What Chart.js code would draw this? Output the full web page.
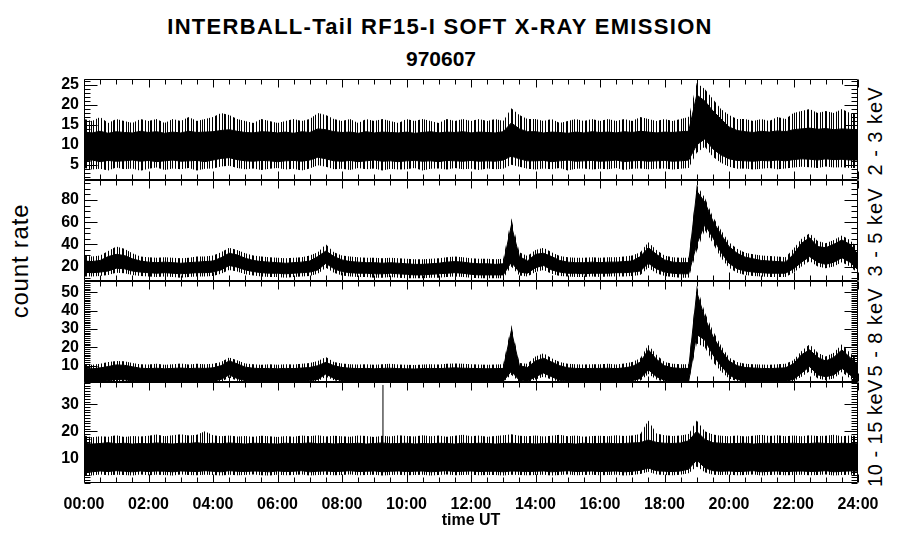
<!DOCTYPE html>
<html>
<head>
<meta charset="utf-8">
<script src="https://cdn.jsdelivr.net/npm/chart.js@4.4.0/dist/chart.umd.min.js"></script>
<style>
  body { margin: 0; background: #fff; }
  #wrap { position: relative; width: 900px; height: 548px; background: #fff; font-family: "Liberation Sans", Arial, sans-serif; color: #000; overflow: hidden; }
  #wrap canvas { position: absolute; left: 0; }
  .txt { position: absolute; white-space: nowrap; transform: translate(-50%, -50%); }
  .rot { transform: translate(-50%, -50%) rotate(-90deg); }
</style>
</head>
<body>
<div id="wrap">
  <div class="txt" style="left:440px;top:27px;font:bold 22px 'Liberation Sans',Arial,sans-serif;letter-spacing:1.3px">INTERBALL-Tail RF15-I SOFT X-RAY EMISSION</div>
  <div class="txt" style="left:441px;top:59px;font:bold 21px 'Liberation Sans',Arial,sans-serif">970607</div>
  <div class="txt rot" style="left:20px;top:261px;font:24px 'Liberation Sans',Arial,sans-serif;letter-spacing:0.8px">count rate</div>
  <div class="txt rot" style="left:875px;top:131px;font:20px 'Liberation Sans',Arial,sans-serif;letter-spacing:1px">2 - 3 keV</div>
  <div class="txt rot" style="left:875px;top:232px;font:20px 'Liberation Sans',Arial,sans-serif;letter-spacing:1px">3 - 5 keV</div>
  <div class="txt rot" style="left:875px;top:332px;font:20px 'Liberation Sans',Arial,sans-serif;letter-spacing:1px">5 - 8 keV</div>
  <div class="txt rot" style="left:875px;top:433px;font:20px 'Liberation Sans',Arial,sans-serif;letter-spacing:0.5px">10 - 15 keV</div>
  <canvas id="c1" width="900" height="113" style="top:73px"></canvas>
  <canvas id="c2" width="900" height="113" style="top:174px"></canvas>
  <canvas id="c3" width="900" height="113" style="top:275px"></canvas>
  <canvas id="c4" width="900" height="172" style="top:376px"></canvas>
</div>
<script>
// samples every 15 min, 00:00 .. 24:00 (97 values)
// core = dense black band, spike = extent of the noisy fringe

// 2 - 3 keV
const p1CoreHi = [
  13.2,13.0,13.4,12.9,13.3,13.1,13.0,13.4,
  13.1,13.3,12.9,13.2,13.0,13.4,13.1,13.2,
  13.3,13.6,13.8,13.4,13.1,13.0,13.3,13.2,
  13.0,13.2,12.9,13.3,13.1,14.0,13.8,13.3,
  13.1,13.2,12.9,13.3,13.0,13.2,13.1,13.0,
  13.2,12.9,13.1,13.3,13.0,13.2,13.1,13.3,
  13.0,13.2,13.1,13.0,13.3,15.5,14.0,13.3,
  13.3,13.0,13.2,13.1,12.9,13.2,13.0,13.3,
  13.1,13.2,13.0,13.3,13.1,13.4,13.2,13.0,
  13.2,13.1,13.3,13.4,22.5,21.0,18.5,16.5,
  14.5,13.6,13.3,13.1,13.4,13.2,13.5,13.3,
  13.8,14.0,14.2,13.9,14.1,13.8,14.0,13.9,
  13.7]
const p1CoreLo = [
  6.0,6.2,5.8,6.1,5.9,6.0,6.2,5.9,
  6.1,5.8,6.0,6.2,5.9,6.0,6.1,5.8,
  6.2,6.6,6.8,6.3,6.0,5.9,6.1,6.0,
  5.8,6.0,6.1,5.9,6.2,6.9,6.5,6.0,
  5.9,6.1,5.8,6.0,6.2,5.9,6.0,5.8,
  6.0,6.1,5.9,6.0,5.8,6.1,6.0,5.9,
  6.1,5.9,6.0,5.9,6.2,7.2,6.5,6.0,
  6.0,6.1,5.8,6.0,6.2,5.9,6.0,6.1,
  5.9,6.0,6.2,5.8,6.0,6.1,5.9,6.0,
  6.1,5.9,6.0,6.2,10.0,11.5,9.0,7.5,
  6.5,6.1,6.0,5.9,6.1,6.0,6.2,6.0,
  6.3,6.5,6.4,6.2,6.5,6.3,6.4,6.2,
  6.2]
const p1SpikeHi = [
  16.5,16.0,17.0,15.5,16.5,16.0,15.5,16.5,
  16.0,16.5,15.5,16.5,16.0,17.0,16.0,16.5,
  17.0,18.0,17.5,16.5,16.0,15.5,16.5,16.0,
  15.5,16.0,16.5,16.0,16.5,18.0,17.5,16.5,
  16.0,16.5,15.5,16.5,16.0,16.5,16.0,15.5,
  16.5,16.0,16.5,16.0,15.5,16.5,16.0,16.5,
  16.0,16.5,16.0,16.5,16.0,19.2,17.5,16.5,
  16.5,16.0,16.5,15.5,16.0,16.5,16.0,16.5,
  16.0,16.5,16.0,16.5,16.0,17.0,16.5,16.0,
  16.5,16.0,16.5,17.0,25.5,24.0,21.5,19.0,
  17.5,16.5,16.5,16.0,16.5,16.0,17.0,16.5,
  18.0,18.5,19.0,18.0,18.5,18.0,19.0,18.0,
  17.5]
const p1SpikeLo = [
  4.2,3.8,4.0,3.6,4.3,3.9,4.1,3.5,
  4.0,4.3,3.7,4.1,3.9,4.2,3.6,4.0,
  4.1,4.6,4.8,4.2,3.9,4.1,3.7,4.0,
  4.2,3.8,4.0,3.6,4.1,4.9,4.5,3.9,
  4.0,3.7,4.2,3.9,4.1,3.6,4.0,3.8,
  3.9,4.2,3.6,4.0,4.1,3.8,4.2,3.9,
  4.0,3.7,4.1,3.9,4.0,5.0,4.5,4.0,
  3.8,4.1,3.9,4.2,3.6,4.0,4.1,3.8,
  4.0,3.9,4.2,3.7,4.0,4.1,3.9,4.0,
  4.1,3.8,4.0,4.2,8.0,9.5,7.0,5.5,
  4.5,4.0,4.1,3.8,4.0,4.2,3.9,4.1,
  4.3,4.5,4.4,4.2,4.6,4.3,4.4,4.2,
  4.2]

// 3 - 5 keV
const p2CoreHi = [
  25,24.5,25.5,29,31,30,27,25,
  24,23.5,24,23.5,23,23.5,24,24.5,
  25,28,32,30.5,27.5,25.5,24.5,24,
  23.5,23,23.5,24,25,29,34,29,
  26,24.5,24,23.5,23.5,23,23.5,23,
  22.5,22,22,22.5,23,24,24.5,24,
  23,22.5,22.5,22,22.5,57,29,25,
  31,32,29,25.5,24,23.5,23.5,24,
  23.5,24,24,24.5,25,29,37,31,
  26,24,23.5,23.5,88,78,61,49,
  38,32,28.5,27,25.5,25,24.5,24,
  31,41,46,38,37,40,44,40,
  31]
const p2CoreLo = [
  15,14.5,15,16,18.5,18,16,15,
  14.5,14,14.5,14,13.5,14,14.5,14.5,
  15,17,21,19.5,17,15.5,14.5,14,
  14,13.5,14,14.5,15,17,23,18,
  15.5,14.5,14,14,13.5,13.5,14,13.5,
  13,12.5,12.5,13,13.5,14,14.5,14,
  13,12.5,12.5,12.5,12.5,24,15,14,
  19,21,17,15,14,14,13.5,14,
  14,14,14.5,14.5,15,16,23,18,
  15,14,13.5,13.5,40,58,46,33,
  23,18,16,15,14.5,14,14,14,
  18,24,29,24,22,24,28,24,
  17]
const p2SpikeHi = [
  30,29,30,34,38,36,32,29,
  28.5,28,28.5,28,27.5,28,29,29,
  30,33,37,35,32,30,29,28.5,
  28,27.5,28,28.5,30,33,40,33,
  30,29,28.5,28,28,27.5,28,27.5,
  27,26.5,26.5,27,27.5,28.5,29,28.5,
  27.5,27,27,26.5,27,63.5,33,29.5,
  35,37,33,29.5,28.5,28,28,28.5,
  28,28.5,28.5,29,30,33,42,35,
  30,28.5,28,28,93.5,82,65,53,
  42,36,32.5,31,30,29.5,29,28.5,
  36,45,50,43,41,44,48,44,
  36]
const p2SpikeLo = [
  11,11,11.5,12.5,14.5,14,12.5,11.5,
  11,10.5,11,10.5,10,10.5,11,11,
  11.5,13.5,17,15.5,13,12,11,10.5,
  10.5,10,10.5,11,11.5,13.5,19,14.5,
  12,11,10.5,10.5,10,10,10.5,10,
  9.5,9.5,9.5,10,10,10.5,11,10.5,
  10,9.5,9.5,9.5,9.5,20,12,11,
  15,17,13.5,11.5,11,10.5,10.5,11,
  10.5,11,11,11,11.5,12.5,19,14,
  11.5,10.5,10,10,34,53,41,28,
  19,14.5,12.5,11.5,11,10.5,10.5,10.5,
  14.5,20,25,20,18.5,20,24,20,
  14]

// 5 - 8 keV
const p3CoreHi = [
  8.5,8.3,8.8,9.5,10.4,10.2,9.4,8.6,
  8.4,8.6,8.3,8.5,8.7,8.4,8.6,8.5,
  8.8,10.0,12.6,11.0,9.2,8.6,8.4,8.5,
  8.3,8.5,8.4,8.7,9.0,10.0,11.8,10.0,
  9.0,8.6,8.4,8.5,8.3,8.5,8.6,8.4,
  8.3,8.2,8.4,8.5,8.4,8.6,8.8,8.6,
  8.5,8.4,8.3,8.4,8.5,29.0,10.0,9.0,
  12.5,14.0,12.0,10.0,8.8,8.5,8.4,8.5,
  8.5,8.6,8.4,8.8,9.5,12.0,18.6,13.5,
  10.0,8.8,8.5,8.5,50.0,36.0,26.0,18.5,
  12.5,10.0,9.0,8.7,8.5,8.4,8.6,8.8,
  11.0,16.0,18.6,14.5,12.5,14.5,18.6,14.5,
  10.5]
const p3CoreLo = [
  1.5,1.5,1.5,1.8,2.5,2.3,1.8,1.5,
  1.5,1.5,1.5,1.5,1.5,1.5,1.5,1.5,
  1.5,2.5,5.0,3.0,1.8,1.5,1.5,1.5,
  1.5,1.5,1.5,1.5,1.8,2.5,5.5,3.0,
  1.8,1.5,1.5,1.5,1.5,1.5,1.5,1.5,
  1.5,1.5,1.5,1.5,1.5,1.5,1.5,1.5,
  1.5,1.5,1.5,1.5,1.5,7.0,2.0,1.5,
  4.0,6.0,4.0,2.0,1.5,1.5,1.5,1.5,
  1.5,1.5,1.5,1.5,1.8,3.0,7.8,4.0,
  2.0,1.5,1.5,1.5,27.0,24.0,16.0,10.0,
  5.0,2.5,1.5,1.5,1.5,1.5,1.5,1.5,
  2.5,6.0,9.5,5.0,4.0,5.0,8.6,5.0,
  2.0]
const p3SpikeHi = [
  10.8,10.5,11.0,12.0,12.6,12.4,11.5,10.8,
  10.6,11.0,10.5,10.8,11.2,10.6,11.0,10.8,
  11.0,12.0,14.4,13.0,11.2,10.8,10.5,10.8,
  10.5,10.8,10.6,11.0,11.4,12.5,14.7,12.0,
  11.2,10.8,10.6,10.8,10.5,10.8,11.0,10.6,
  10.5,10.4,10.6,10.8,10.6,11.0,11.2,11.0,
  10.8,10.6,10.5,10.6,10.8,32.2,11.5,11.0,
  15.0,16.8,14.0,12.0,11.0,10.8,10.6,10.8,
  10.8,11.0,10.6,11.2,12.0,14.0,21.3,16.0,
  12.0,11.0,10.8,10.8,53.5,39.0,29.0,21.0,
  14.5,12.0,11.0,10.8,10.6,10.5,10.8,11.0,
  13.0,18.0,21.6,17.0,15.0,17.0,21.6,17.0,
  12.8]
const p3SpikeLo = [
  1.1,1.1,1.1,1.1,1.1,1.1,1.1,1.1,
  1.1,1.1,1.1,1.1,1.1,1.1,1.1,1.1,
  1.1,1.1,3.5,1.8,1.1,1.1,1.1,1.1,
  1.1,1.1,1.1,1.1,1.1,1.5,4.0,2.0,
  1.1,1.1,1.1,1.1,1.1,1.1,1.1,1.1,
  1.1,1.1,1.1,1.1,1.1,1.1,1.1,1.1,
  1.1,1.1,1.1,1.1,1.1,5.0,1.1,1.1,
  2.5,4.0,2.5,1.1,1.1,1.1,1.1,1.1,
  1.1,1.1,1.1,1.1,1.1,1.8,5.5,2.5,
  1.1,1.1,1.1,1.1,22.0,20.0,12.0,7.0,
  3.0,1.5,1.1,1.1,1.1,1.1,1.1,1.1,
  1.5,4.0,7.0,3.0,2.0,3.0,6.5,3.0,
  1.1]

// 10 - 15 keV
const p4CoreHi = [
  15.6,15.3,15.5,15.8,15.4,15.6,15.3,15.5,
  15.4,15.7,15.5,15.3,15.6,15.5,15.8,15.4,
  15.6,15.4,15.7,15.5,15.3,15.6,15.5,15.4,
  15.3,15.6,15.4,15.5,15.7,15.4,15.6,15.3,
  15.5,15.4,15.6,15.3,15.5,15.7,15.4,15.5,
  15.6,15.3,15.5,15.4,15.6,15.5,15.3,15.6,
  15.4,15.6,15.5,15.3,15.5,15.6,15.4,15.5,
  15.3,15.5,15.6,15.4,15.5,15.3,15.6,15.4,
  15.5,15.6,15.4,15.5,15.7,15.8,16.8,15.9,
  15.6,15.5,15.7,16.5,20.0,17.0,15.8,15.6,
  15.4,15.5,15.6,15.3,15.5,15.6,15.4,15.5,
  15.6,15.4,15.5,15.7,15.5,15.4,15.6,15.5,
  15.4]
const p4CoreLo = [
  5.2,5.0,5.3,5.1,5.4,5.2,5.0,5.3,
  5.1,5.3,5.2,5.0,5.3,5.2,5.1,5.4,
  5.2,5.0,5.4,5.2,5.1,5.3,5.2,5.0,
  5.3,5.1,5.2,5.4,5.0,5.2,5.3,5.1,
  5.2,5.4,5.1,5.2,5.3,5.0,5.2,5.3,
  5.1,5.2,5.3,5.0,5.2,5.4,5.1,5.2,
  5.3,5.1,5.2,5.2,5.0,5.3,5.2,5.1,
  5.2,5.3,5.0,5.2,5.4,5.1,5.2,5.3,
  5.1,5.2,5.3,5.0,5.2,5.6,6.4,5.4,
  5.2,5.1,5.3,6.0,9.4,6.5,5.4,5.2,
  5.3,5.1,5.2,5.4,5.0,5.2,5.3,5.1,
  5.2,5.3,5.1,5.2,5.4,5.0,5.2,5.3,
  5.2]
const p4SpikeHi = [
  18.5,17.8,18.2,18.0,18.6,17.9,18.3,18.1,
  18.4,18.8,18.2,18.6,18.9,18.5,18.7,20.0,
  18.6,18.2,18.5,18.1,18.3,18.0,18.4,18.2,
  17.9,18.3,18.0,18.5,18.2,18.6,18.1,18.4,
  18.2,18.0,18.5,18.3,17.9,18.4,18.1,18.6,
  18.3,18.1,18.6,18.2,18.5,18.0,18.4,18.7,
  18.2,18.5,18.0,18.3,18.6,18.9,18.4,18.2,
  18.5,18.1,18.4,18.7,18.2,18.5,18.0,18.3,
  18.4,18.2,18.6,18.3,18.5,19.0,24.0,19.2,
  18.6,18.3,18.5,19.0,24.0,20.0,18.8,18.4,
  18.2,18.5,18.1,18.4,18.7,18.3,18.6,18.2,
  18.5,18.2,18.6,18.3,18.4,18.7,18.2,18.5,
  18.3]
const p4SpikeLo = [
  3.8,3.6,4.0,3.7,3.9,3.8,3.6,4.0,
  3.7,3.9,3.8,3.6,4.0,3.8,3.7,3.9,
  3.8,3.6,3.9,3.7,3.8,4.0,3.7,3.6,
  3.9,3.7,3.8,4.0,3.6,3.8,3.9,3.7,
  3.8,4.0,3.7,3.8,3.9,3.6,3.8,3.9,
  3.7,3.8,3.9,3.6,3.8,4.0,3.7,3.8,
  3.9,3.7,3.8,3.8,3.6,3.9,3.8,3.7,
  3.8,3.9,3.6,3.8,4.0,3.7,3.8,3.9,
  3.7,3.8,3.9,3.6,3.8,4.2,5.0,4.0,
  3.8,3.7,3.9,4.5,7.0,4.8,3.9,3.8,
  3.9,3.7,3.8,4.0,3.6,3.8,3.9,3.7,
  3.8,3.9,3.7,3.8,4.0,3.6,3.8,3.9,
  3.8]
// single spike in 10 - 15 keV near 09:16
const p4SpikeTime = [9.27]
const p4SpikeBase = [15.5]
const p4SpikeTop = [37.2]

// axes
const p1Ticks = [5, 10, 15, 20, 25]
const p2Ticks = [20, 40, 60, 80]
const p3Ticks = [10, 20, 30, 40, 50]
const p4Ticks = [10, 20, 30]
const xTickHours = [0, 2, 4, 6, 8, 10, 12, 14, 16, 18, 20, 22, 24]
const xTickLabels = ['00:00', '02:00', '04:00', '06:00', '08:00', '10:00', '12:00',
  '14:00', '16:00', '18:00', '20:00', '22:00', '24:00']

const SAMPLE_H = 0.25
const toPoints = arr => arr.map((v, i) => ({ x: i * SAMPLE_H, y: v }))

Chart.defaults.font.family = '"Liberation Sans", Arial, sans-serif'
Chart.defaults.color = '#000'

// irregular vertical hairlines for the noisy fringe
function fringePattern() {
  const cols = [0, 2, 3, 6, 8, 11, 12, 15, 17, 19, 22, 24, 27, 30, 31, 34]
  const c = document.createElement('canvas')
  c.width = 37; c.height = 4
  const g = c.getContext('2d')
  g.fillStyle = '#000'
  cols.forEach(x => g.fillRect(x, 0, 1, 4))
  return g.createPattern(c, 'repeat')
}
const fringe = fringePattern()

// frame + inward ticks on all four sides
const frameTicks = {
  id: 'frameTicks',
  afterDraw(chart, args, opts) {
    const { ctx, chartArea: a } = chart
    const x = chart.scales.x, y = chart.scales.y
    const L = Math.round(a.left) + 0.5, R = Math.round(a.right) - 0.5
    const T = Math.round(a.top) + 0.5, B = Math.round(a.bottom) - 0.5
    ctx.save()
    ctx.strokeStyle = '#000'
    ctx.lineWidth = 1
    ctx.beginPath()
    ctx.rect(L, T, R - L, B - T)
    for (let h = 0; h <= 24; h += 0.5) {
      const px = Math.round(x.getPixelForValue(h)) + 0.5
      const len = h % 2 === 0 ? 8 : 5
      ctx.moveTo(px, B); ctx.lineTo(px, B - len)
      ctx.moveTo(px, T); ctx.lineTo(px, T + len)
    }
    for (let v = Math.ceil(y.min / opts.minor) * opts.minor; v <= y.max; v += opts.minor) {
      const py = Math.round(y.getPixelForValue(v)) + 0.5
      const len = opts.major.includes(v) ? 13 : 6
      ctx.moveTo(L, py); ctx.lineTo(L + len, py)
      ctx.moveTo(R, py); ctx.lineTo(R - len, py)
    }
    ctx.stroke()
    ctx.restore()
  }
}

function band(hi, lo, fill, edge) {
  return [
    { data: toPoints(hi), fill: '+1', backgroundColor: fill, borderColor: '#000', borderWidth: edge, pointRadius: 0, tension: 0 },
    { data: toPoints(lo), fill: false, borderColor: '#000', borderWidth: edge, pointRadius: 0, tension: 0 }
  ]
}

function makePanel(id, p) {
  const datasets = [
    ...band(p.coreHi, p.coreLo, '#000', 1),
    ...band(p.spikeHi, p.spikeLo, fringe, 0),
    ...(p.extra || [])
  ]
  const last = id === 'c4'
  return new Chart(document.getElementById(id), {
    type: 'line',
    data: { datasets },
    options: {
      responsive: false,
      animation: false,
      events: [],
      layout: { padding: { left: 0, right: 42, top: 6, bottom: last ? 0 : 6 } },
      plugins: { legend: { display: false }, tooltip: { enabled: false }, frameTicks: { major: p.ticks, minor: p.minor } },
      scales: {
        x: {
          type: 'linear', min: 0, max: 24,
          display: last,
          grid: { display: false, drawTicks: false },
          border: { display: false },
          afterBuildTicks: s => { s.ticks = xTickHours.map(v => ({ value: v })) },
          afterFit: s => {
            if (last) s.height = 65
            s.paddingLeft = 0; s.paddingRight = 0
          },
          ticks: {
            autoSkip: false, maxRotation: 0, padding: 12,
            font: { size: 16, weight: 'bold' },
            callback: (v, i) => xTickLabels[i]
          },
          title: { display: true, text: 'time UT', font: { size: 16, weight: 'bold' }, padding: { top: 0, bottom: 18 } }
        },
        y: {
          min: p.min, max: p.max,
          grid: { display: false, drawTicks: false },
          border: { display: false },
          afterBuildTicks: s => { s.ticks = p.ticks.map(v => ({ value: v })) },
          afterFit: s => { s.width = 84; s.paddingTop = 0; s.paddingBottom = 0 },
          ticks: { padding: 5, font: { size: 16, weight: 'bold' } }
        }
      }
    },
    plugins: [frameTicks]
  })
}

makePanel('c1', { coreHi: p1CoreHi, coreLo: p1CoreLo, spikeHi: p1SpikeHi, spikeLo: p1SpikeLo, min: 1.2, max: 26.5, ticks: p1Ticks, minor: 1 })
makePanel('c2', { coreHi: p2CoreHi, coreLo: p2CoreLo, spikeHi: p2SpikeHi, spikeLo: p2SpikeLo, min: 7, max: 98, ticks: p2Ticks, minor: 5 })
makePanel('c3', { coreHi: p3CoreHi, coreLo: p3CoreLo, spikeHi: p3SpikeHi, spikeLo: p3SpikeLo, min: 1.1, max: 56.1, ticks: p3Ticks, minor: 1 })
makePanel('c4', {
  coreHi: p4CoreHi, coreLo: p4CoreLo, spikeHi: p4SpikeHi, spikeLo: p4SpikeLo, min: 0.85, max: 38.3, ticks: p4Ticks, minor: 1,
  extra: p4SpikeTime.map((t, i) => ({
    data: [{ x: t, y: p4SpikeBase[i] }, { x: t, y: p4SpikeTop[i] }],
    fill: false, borderColor: '#000', borderWidth: 1, pointRadius: 0
  }))
})
</script>
</body>
</html>
